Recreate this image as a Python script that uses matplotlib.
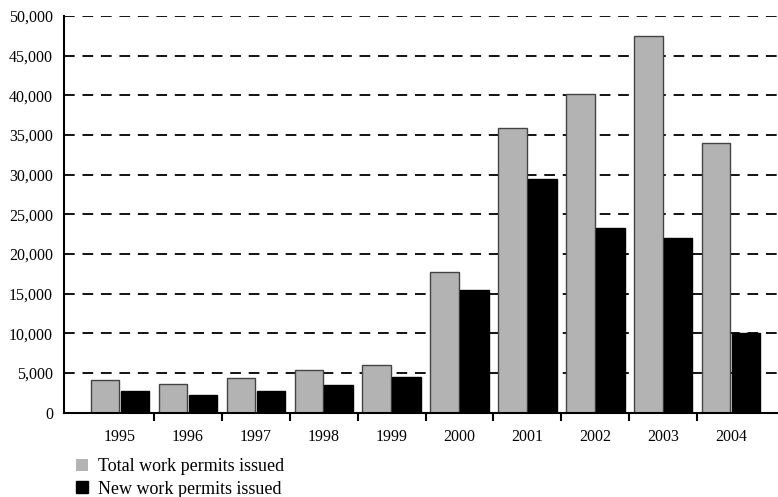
import numpy as np
import matplotlib
matplotlib.use("Agg")
import matplotlib.pyplot as plt
from matplotlib.patches import Patch
from matplotlib.ticker import FuncFormatter

plt.rcParams.update({
    'font.family': 'Liberation Serif',
    'font.size': 11.5,
})

years = ["1995", "1996", "1997", "1998", "1999", "2000", "2001", "2002", "2003", "2004"]
total_permits = [4100, 3600, 4400, 5400, 5950, 17700, 35900, 40200, 47500, 34000]
new_permits = [2700, 2200, 2700, 3450, 4450, 15400, 29450, 23250, 22000, 10000]

fig = plt.figure(figsize=(7.78, 4.97), dpi=100)
ax = fig.add_axes([0.0823, 0.170, 0.9177, 0.798])

x = np.arange(len(years))
w = 0.42
ax.bar(x - 0.22, total_permits, w, color='#b3b3b3', edgecolor='#444444', linewidth=1, zorder=2)
ax.bar(x + 0.22, new_permits, w, color='black', edgecolor='black', linewidth=1, zorder=2)

ax.set_ylim(0, 50000)
ax.set_xlim(-0.825, 9.69)
ax.set_yticks(range(0, 50001, 5000))
ax.yaxis.set_major_formatter(FuncFormatter(lambda v, p: f"{int(v):,}"))
ax.tick_params(axis='y', length=0, pad=8)

# year labels at group centres, tick marks between groups
ax.set_xticks(x)
ax.set_xticklabels(years)
ax.set_xticks(x[:-1] + 0.5, minor=True)
ax.tick_params(axis='x', which='major', length=0, pad=12)
ax.tick_params(axis='x', which='minor', length=6, width=1.5, color='black')

ax.set_axisbelow(True)
ax.yaxis.grid(True, color='#111111', linewidth=1.4, dashes=(5.5, 4))
ax.spines['top'].set_visible(False)
ax.spines['right'].set_visible(False)
ax.spines['left'].set_linewidth(1.5)
ax.spines['bottom'].set_linewidth(1.5)

handles = [Patch(facecolor='#b3b3b3', edgecolor='none', label='Total work permits issued'),
           Patch(facecolor='black', edgecolor='black', label='New work permits issued')]
fig.legend(handles=handles, loc='upper left', bbox_to_anchor=(0.098, 0.078),
           frameon=False, fontsize=13, handlelength=0.65, handleheight=0.65,
           handletextpad=0.55, labelspacing=0.3, borderaxespad=0, borderpad=0)

fig.savefig("out.png", dpi=100)
